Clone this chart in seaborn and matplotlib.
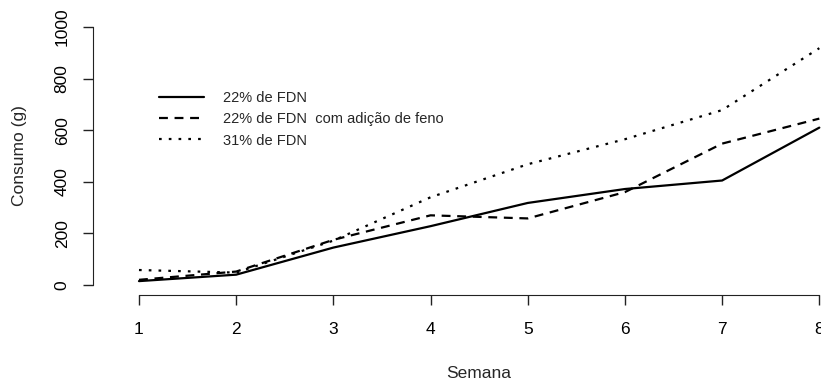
import pandas as pd
import matplotlib
matplotlib.use("Agg")
import matplotlib.pyplot as plt
import seaborn as sns

semana = [1, 2, 3, 4, 5, 6, 7, 8]
fdn22 = [15, 40, 145, 228, 318, 372, 405, 610]
fdn22_feno = [20, 52, 175, 270, 258, 360, 548, 645]
fdn31 = [58, 48, 172, 340, 468, 565, 678, 918]
labels = ["22% de FDN", "22% de FDN  com adição de feno", "31% de FDN"]
y_ticks = [0, 200, 400, 600, 800, 1000]

df = pd.DataFrame({
    "Semana": semana * 3,
    "Consumo": fdn22 + fdn22_feno + fdn31,
    "Dieta": [labels[0]] * 8 + [labels[1]] * 8 + [labels[2]] * 8,
})

sns.set_style("white")
plt.rcParams["font.family"] = ["Liberation Sans", "DejaVu Sans"]

fig = plt.figure(figsize=(8.21, 3.86), dpi=100)
ax = fig.add_axes([93.3 / 821, (386 - 295.3) / 386, (865 - 93.3) / 821, (295.3 - 16.7) / 386])

sns.lineplot(data=df, x="Semana", y="Consumo", hue="Dieta", style="Dieta",
             palette=["black"] * 3,
             dashes={labels[0]: "", labels[1]: (4, 3), labels[2]: (1.2, 3.2)},
             linewidth=1.6, ax=ax, legend=True)

ax.set_xlim(0.53, 8.47)
ax.set_ylim(-40, 1040)
ax.set_xticks(semana)
ax.set_yticks(y_ticks)
ax.set_yticklabels([str(v) for v in y_ticks], rotation=90, va="center")
ax.tick_params(axis="both", direction="out", length=7, width=1, colors="#222222",
               labelsize=12.5, labelcolor="black", left=True, bottom=True)
ax.tick_params(axis="x", pad=12)
ax.tick_params(axis="y", pad=10)

for s in ["top", "right"]:
    ax.spines[s].set_visible(False)
ax.spines["left"].set_bounds(0, 1000)
ax.spines["bottom"].set_bounds(1, 8)
ax.spines["left"].set_color("#222222")
ax.spines["bottom"].set_color("#222222")

ax.set_xlabel("Semana", fontsize=12.5, labelpad=21)
ax.set_ylabel("Consumo (g)", fontsize=12.5, labelpad=20)

leg = ax.legend(loc="upper left", bbox_to_anchor=(159 / 821, 1 - 91 / 386),
                bbox_transform=fig.transFigure, frameon=False, fontsize=10.5,
                handlelength=3.1, handletextpad=1.3, labelspacing=0.5,
                borderpad=0, borderaxespad=0)
for line in leg.get_lines():
    line.set_linewidth(1.6)

fig.savefig("out.png", dpi=100)
